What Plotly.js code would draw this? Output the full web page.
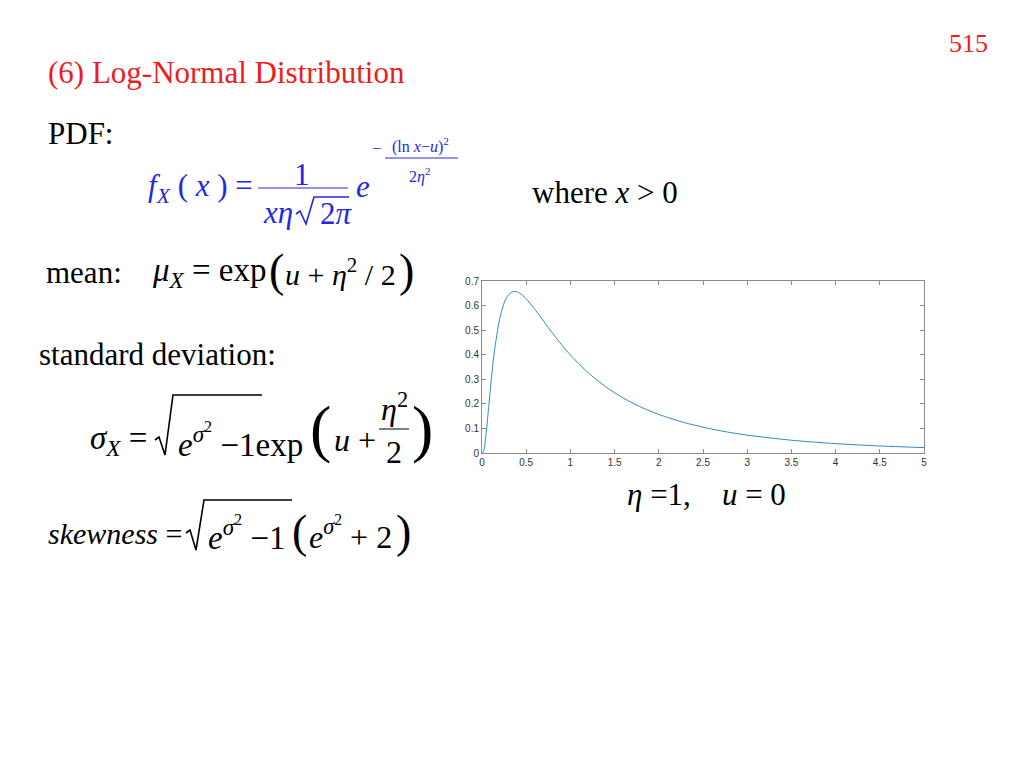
<!DOCTYPE html>
<html>
<head>
<meta charset="utf-8">
<script src="https://cdn.plot.ly/plotly-3.0.1.min.js"></script>
<style>
  html, body { margin: 0; padding: 0; background: #fff; }
  #chart { width: 1024px; height: 768px; }
</style>
</head>
<body>
<div id="chart"></div>
<script>
// Log-normal pdf, eta = 1, u = 0
const xValues = [0, 0.01, 0.02, 0.03, 0.05, 0.075, 0.1, 0.125, 0.15, 0.2, 0.25, 0.3, 0.35, 0.4, 0.45, 0.5,
                 0.6, 0.7, 0.8, 0.9, 1.0, 1.2, 1.4, 1.6, 1.8, 2.0, 2.25, 2.5, 2.75, 3.0, 3.5, 4.0, 4.5, 5.0];
const pdfValues = [0, 0.001, 0.0095, 0.0284, 0.0898, 0.1859, 0.2815, 0.3673, 0.4396, 0.5463, 0.6105, 0.6442, 0.6570, 0.6555, 0.6445, 0.6275,
                   0.5836, 0.5349, 0.4864, 0.4409, 0.3989, 0.3269, 0.2693, 0.2232, 0.1865, 0.1569, 0.1276, 0.1049, 0.0870, 0.0727, 0.0520, 0.0381, 0.0286, 0.0219];

const xTicks = [0, 0.5, 1, 1.5, 2, 2.5, 3, 3.5, 4, 4.5, 5];
const yTicks = [0, 0.1, 0.2, 0.3, 0.4, 0.5, 0.6, 0.7];

const W = 1024, H = 768;
const SERIF = '"Liberation Serif", "Times New Roman", serif';
const RED = '#ee1c1c';
const BLUE = '#2626e6';
const AXIS_GREY = '#8c8c8c';

// pixel -> paper helpers
const px = v => v / W;
const py = v => 1 - v / H;

function txt(x, y, text, size, opts = {}) {
    return {
        xref: 'paper', yref: 'paper',
        x: px(x), y: py(y),
        xanchor: opts.anchor || 'left', yanchor: 'middle',
        text: text, showarrow: false,
        font: { family: SERIF, size: size, color: opts.color || '#000' },
    };
}

function hline(x0, x1, y, color, width) {
    return {
        type: 'line', xref: 'paper', yref: 'paper',
        x0: px(x0), x1: px(x1), y0: py(y), y1: py(y),
        line: { color: color || '#000', width: width || 1 },
    };
}

// radical sign: small hook, down stroke, long up stroke, then the overline
function radical(x0, yMid, yBot, yTop, x1, color) {
    const c = color || '#000';
    const pts = [[x0, yMid], [x0 + 4, yMid - 3], [x0 + 10, yBot], [x0 + 18, yTop], [x1, yTop]];
    const path = 'M ' + pts.map(p => px(p[0]) + ',' + py(p[1])).join(' L ');
    return { type: 'path', xref: 'paper', yref: 'paper', path: path, line: { color: c, width: 1.6 } };
}

const annotations = [
    txt(968, 44, '515', 26, { anchor: 'center', color: RED }),
    txt(46, 72, '(6) Log-Normal Distribution', 31, { color: RED }),
    txt(46, 134, 'PDF:', 31),

    // PDF formula
    txt(146, 188, '<i>f</i><sub><i>X</i></sub> ( <i>x</i> ) =', 31, { color: BLUE }),
    txt(302, 174, '1', 31, { anchor: 'center', color: BLUE }),
    txt(261, 212, '<i>xη</i>', 31, { color: BLUE }),
    txt(318, 214, '2<i>π</i>', 31, { color: BLUE }),
    txt(354, 186, '<i>e</i>', 31, { color: BLUE }),
    txt(377, 148, '−', 17, { anchor: 'center', color: BLUE }),
    txt(420, 145, '(ln <i>x</i>−<i>u</i>)<sup>2</sup>', 16, { anchor: 'center', color: BLUE }),
    txt(420, 175, '2<i>η</i><sup>2</sup>', 16, { anchor: 'center', color: BLUE }),

    txt(530, 192, 'where <i>x</i> > 0', 31),

    // mean
    txt(44, 272, 'mean:', 31),
    txt(150, 272, '<i>μ</i><sub><i>X</i></sub> = exp', 33),
    txt(267, 270, '(', 46),
    txt(283, 272, '<i>u</i> + <i>η</i><sup>2</sup> / 2', 30),
    txt(397, 270, ')', 46),

    // standard deviation
    txt(37, 355, 'standard deviation:', 31),
    txt(88, 440, '<i>σ</i><sub><i>X</i></sub> =', 33),
    txt(176, 440, '<i>e</i><sup><i>σ</i><sup>2</sup></sup> −1exp', 33),
    txt(308, 428, '(', 64),
    txt(332, 440, '<i>u</i> +', 32),
    txt(394, 407, '<i>η</i><sup>2</sup>', 32, { anchor: 'center' }),
    txt(394, 452, '2', 32, { anchor: 'center' }),
    txt(410, 428, ')', 64),

    // skewness
    txt(46, 533, '<i>skewness</i> =', 30),
    txt(206, 533, '<i>e</i><sup><i>σ</i><sup>2</sup></sup> −1', 33),
    txt(290, 531, '(', 46),
    txt(307, 533, '<i>e</i><sup><i>σ</i><sup>2</sup></sup> + 2', 32),
    txt(394, 531, ')', 46),

    txt(706, 494, '<i>η</i> =1,    <i>u</i> = 0', 31, { anchor: 'center' }),
];

const shapes = [
    hline(258, 348, 188, BLUE, 1.2),
    radical(296, 214, 224, 197, 349, BLUE),
    hline(385, 458, 158, BLUE, 1),
    radical(155, 440, 455, 395, 262),
    hline(379, 409, 429, '#000', 1),
    radical(186, 533, 550, 500, 292),
];

const trace = {
    x: xValues,
    y: pdfValues,
    type: 'scatter',
    mode: 'lines',
    line: { color: '#2f88c6', width: 1, shape: 'spline', smoothing: 0.6 },
    hoverinfo: 'skip',
};

const axisCommon = {
    showgrid: false,
    zeroline: false,
    showline: true,
    mirror: 'ticks',
    linecolor: AXIS_GREY,
    linewidth: 1,
    ticks: 'inside',
    ticklen: 4,
    tickcolor: AXIS_GREY,
    tickfont: { family: '"Liberation Sans", Arial, sans-serif', size: 10, color: '#333' },
};

const layout = {
    width: W,
    height: H,
    paper_bgcolor: '#fff',
    plot_bgcolor: '#fff',
    margin: { l: 0, r: 0, t: 0, b: 0 },
    showlegend: false,
    xaxis: { ...axisCommon, domain: [px(482), px(924)], range: [0, 5], tickvals: xTicks, ticktext: xTicks.map(String) },
    yaxis: { ...axisCommon, domain: [py(453), py(281)], range: [0, 0.7], tickvals: yTicks, ticktext: yTicks.map(String) },
    annotations: annotations,
    shapes: shapes,
};

Plotly.newPlot('chart', [trace], layout, { displayModeBar: false, staticPlot: true });
</script>
</body>
</html>
